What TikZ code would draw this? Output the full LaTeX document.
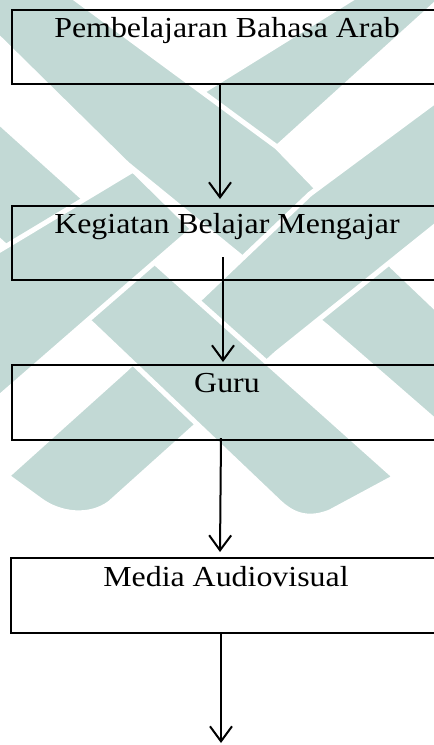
\documentclass[tikz,border=0pt]{standalone}
\usepackage{fontspec}
\setmainfont{Liberation Serif}[FakeStretch=1.1]
\usetikzlibrary{arrows.meta}
\definecolor{wmteal}{RGB}{194,217,213}
\tikzset{
  kotak/.style={draw,line width=2pt,minimum width=430pt,minimum height=74pt,inner sep=0pt},
  judul/.style={anchor=base,font=\fontsize{29}{34}\selectfont},
  alur/.style={-{Straight Barb[length=15pt,width=22pt]},line width=2pt},
  logo/.style={fill=wmteal,draw=white,line width=5pt,line join=round}
}
\begin{document}
\begin{tikzpicture}[x=1pt,y=-1pt]
\useasboundingbox (0,0) rectangle (434,745);
\clip (0,0) rectangle (434,745);
\path[logo] (150,124) -- (382,-20) -- (462,-20) -- (230,190) -- cycle;
\path[logo] (-60,-20) -- (50,-20) -- (277,147) -- (393,267) -- (480,350)
  -- (480,460) -- (327,327) -- (127,164) -- cycle;
\path[logo] (7,476) -- (125,370) -- (310,194) -- (480,68) -- (480,190) -- (277,353)
  -- (110,503) .. controls (90,518) and (60,515) .. (40,500) -- cycle;
\path[logo] (-20,105) -- (160,267) -- (395,477) -- (330,512)
  .. controls (305,522) and (290,512) .. (280,503) -- (93,325) -- (-20,223) -- cycle;
\path[logo] (-20,262) -- (133,170) -- (193,229) -- (88,320) -- (-20,414) -- cycle;
\node[kotak] (pba) at (227,47) {};
\node[judul] (pba-t) at ([yshift=-28pt]pba.north) {Pembelajaran Bahasa Arab};
\node[kotak] (kbm) at (227,243) {};
\node[judul] (kbm-t) at ([yshift=-28pt]kbm.north) {Kegiatan Belajar Mengajar};
\node[kotak,minimum height=75pt] (guru) at (227,402.5) {};
\node[judul] (guru-t) at ([yshift=-28pt]guru.north) {Guru};
\node[kotak,minimum height=75pt] (media) at (226,595.5) {};
\node[judul] (media-t) at ([yshift=-29pt]media.north) {Media Audiovisual};
\coordinate (ujung) at (221,743);
\draw[alur] ([xshift=-7pt]pba.south) -- ([xshift=-7pt,yshift=6pt]kbm.north);
\draw[alur] ([xshift=-4pt,yshift=24pt]kbm.south) -- ([xshift=-4pt,yshift=2pt]guru.north);
\draw[alur] ([xshift=-6pt,yshift=3pt]guru.south) -- ([xshift=-6pt,yshift=5pt]media.north);
\draw[alur] ([xshift=-5pt]media.south) -- (ujung);
\end{tikzpicture}
\end{document}
